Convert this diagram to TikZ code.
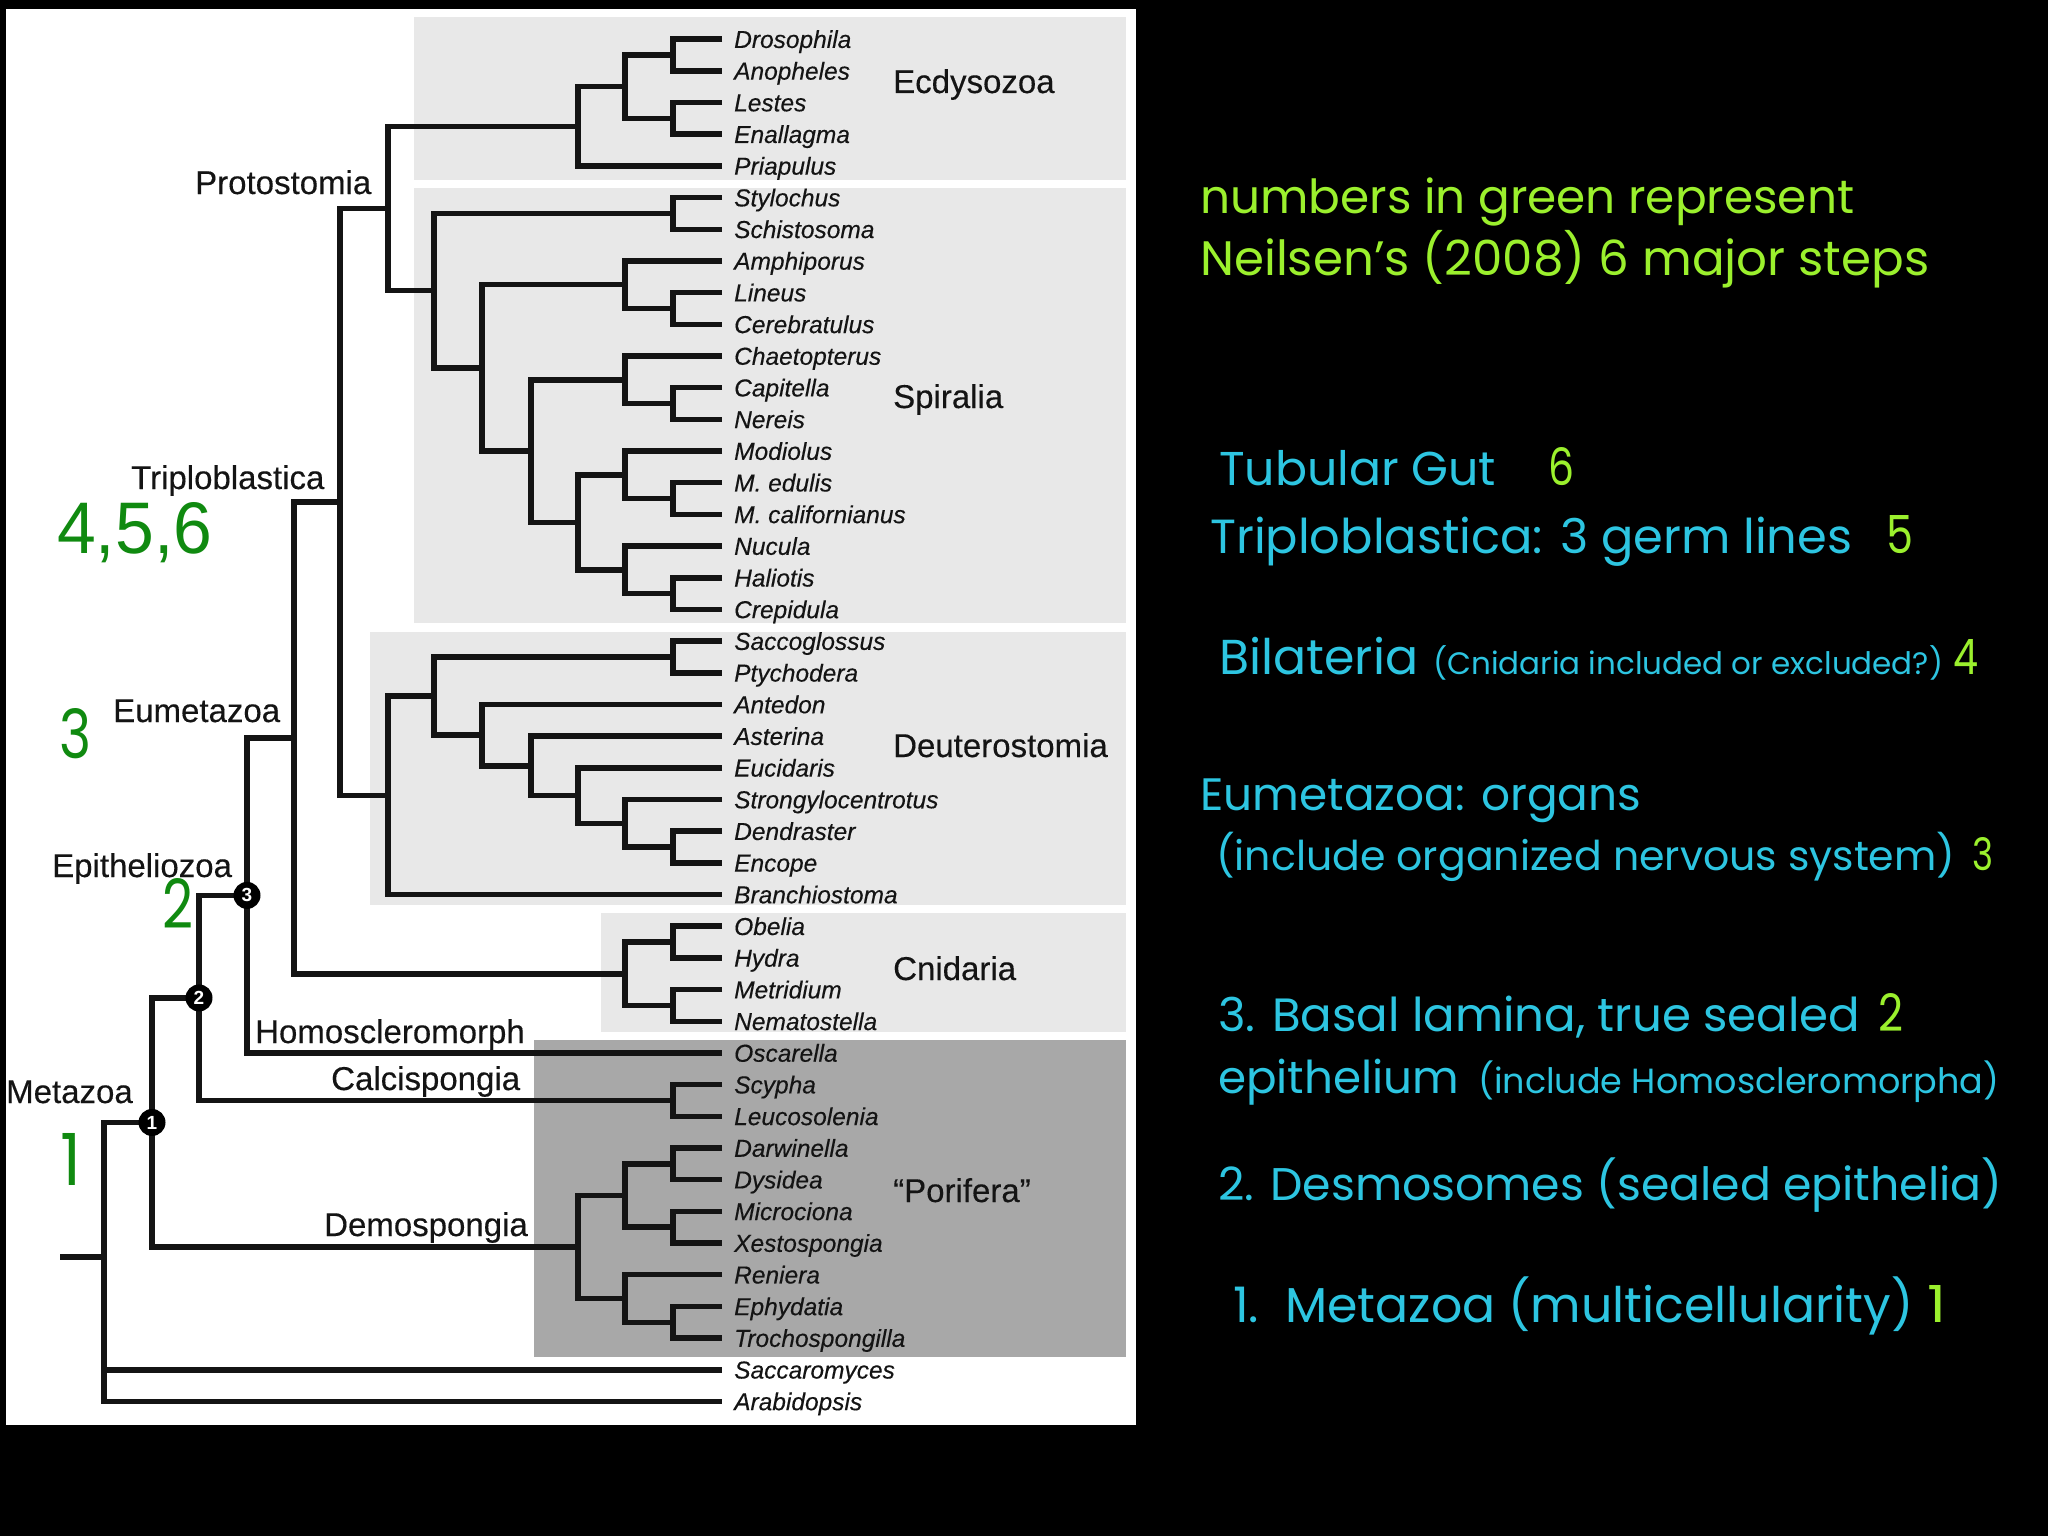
\documentclass[tikz,border=0pt]{standalone}
\usepackage{fontspec}
\usepackage{graphicx}
\setmainfont{Liberation Sans}
\newfontfamily\treefont[FakeBold=0.3]{Liberation Sans}
\newfontfamily\comic{Poppins}
\usetikzlibrary{calc}
\definecolor{lime}{RGB}{155,240,45}
\definecolor{cyn}{RGB}{45,197,225}
\definecolor{dgreen}{RGB}{16,138,16}
\definecolor{boxlight}{RGB}{232,232,232}
\definecolor{boxdark}{RGB}{168,168,168}
\definecolor{ink}{RGB}{20,20,20}

\newcommand\jn[4]{%
  \path ($(#3)!0.5!(#4)$) coordinate (m#1);
  \coordinate (#1) at (#2,0 |- m#1);
  \draw[br] (#3) -| (#1) |- (#4);}
\newcommand\rtx[6]{\node[rtext, text=#5] (#1) at (#2,#4) {\resizebox{#3pt}{!}{\comic #6}};}
\newcommand\dig[7]{\node[rtext, text=#6] (#1) at (#2,#5) {\resizebox{#3pt}{#4pt}{#7}};}

\begin{document}
\begin{tikzpicture}[x=1pt,y=-1pt,
  leaf/.style={anchor=west, inner xsep=12pt, inner ysep=0pt, text height=17.5pt, text depth=0pt,
               text=ink, font=\treefont\fontsize{24.5}{24.5}\selectfont\itshape},
  clade/.style={anchor=base west, inner sep=0pt, text=ink, font=\treefont\fontsize{33}{33}\selectfont},
  br/.style={line width=5.5pt, line join=miter, draw=ink},
  bub/.style={circle, fill=black, text=white, inner sep=0pt, minimum size=27pt,
              font=\fontsize{19}{19}\selectfont\bfseries},
  rtext/.style={anchor=base west, inner sep=0pt},
  lightbox/.style={fill=boxlight},
  darkbox/.style={fill=boxdark}]

% background
\fill[black] (0,0) rectangle (2048,1536);
\fill[white] (6,9) rectangle (1136,1425);

% clade boxes
\fill[lightbox] (414,17) rectangle (1126,180);
\fill[lightbox] (414,188) rectangle (1126,623);
\fill[lightbox] (370,632) rectangle (1126,905);
\fill[lightbox] (601,913) rectangle (1126,1032);
\fill[darkbox] (534,1040) rectangle (1126,1357);

% leaves
\foreach \nm/\lab [count=\i from 0] in {
  Drosophila/Drosophila, Anopheles/Anopheles, Lestes/Lestes, Enallagma/Enallagma, Priapulus/Priapulus,
  Stylochus/Stylochus, Schistosoma/Schistosoma, Amphiporus/Amphiporus, Lineus/Lineus, Cerebratulus/Cerebratulus,
  Chaetopterus/Chaetopterus, Capitella/Capitella, Nereis/Nereis, Modiolus/Modiolus, Medulis/M. edulis,
  Mcalifornianus/M. californianus, Nucula/Nucula, Haliotis/Haliotis, Crepidula/Crepidula,
  Saccoglossus/Saccoglossus, Ptychodera/Ptychodera, Antedon/Antedon, Asterina/Asterina, Eucidaris/Eucidaris,
  Strongylocentrotus/Strongylocentrotus, Dendraster/Dendraster, Encope/Encope, Branchiostoma/Branchiostoma,
  Obelia/Obelia, Hydra/Hydra, Metridium/Metridium, Nematostella/Nematostella,
  Oscarella/Oscarella, Scypha/Scypha, Leucosolenia/Leucosolenia, Darwinella/Darwinella, Dysidea/Dysidea,
  Microciona/Microciona, Xestospongia/Xestospongia, Reniera/Reniera, Ephydatia/Ephydatia,
  Trochospongilla/Trochospongilla, Saccaromyces/Saccaromyces, Arabidopsis/Arabidopsis}
  \node[leaf] (\nm) at (722,{39.2+31.68*\i}) {\lab};

% tree
\jn{E1}{673}{Drosophila}{Anopheles}
\jn{E2}{673}{Lestes}{Enallagma}
\jn{E3}{625}{E1}{E2}
\jn{Ecd}{578}{E3}{Priapulus}
\jn{P1}{673}{Stylochus}{Schistosoma}
\jn{N1}{673}{Lineus}{Cerebratulus}
\jn{Nem}{625}{Amphiporus}{N1}
\jn{A1}{673}{Capitella}{Nereis}
\jn{Ann}{625}{Chaetopterus}{A1}
\jn{M1}{673}{Medulis}{Mcalifornianus}
\jn{M2}{625}{Modiolus}{M1}
\jn{M3}{673}{Haliotis}{Crepidula}
\jn{M4}{625}{Nucula}{M3}
\jn{Mol}{578}{M2}{M4}
\jn{AM}{531}{Ann}{Mol}
\jn{NAM}{482}{Nem}{AM}
\jn{Spi}{434}{P1}{NAM}
\jn{Pro}{388}{Ecd}{Spi}
\jn{D1}{673}{Saccoglossus}{Ptychodera}
\jn{D2}{673}{Dendraster}{Encope}
\jn{D3}{625}{Strongylocentrotus}{D2}
\jn{D4}{578}{Eucidaris}{D3}
\jn{D5}{531}{Asterina}{D4}
\jn{D6}{482}{Antedon}{D5}
\jn{D7}{434}{D1}{D6}
\jn{Deu}{388}{D7}{Branchiostoma}
\jn{Tri}{340}{Pro}{Deu}
\jn{C1}{673}{Obelia}{Hydra}
\jn{C2}{673}{Metridium}{Nematostella}
\jn{Cni}{625}{C1}{C2}
\jn{Eum}{294}{Tri}{Cni}
\jn{Epi}{247}{Eum}{Oscarella}
\jn{Cal}{673}{Scypha}{Leucosolenia}
\jn{NdTwo}{199}{Epi}{Cal}
\jn{S1}{673}{Darwinella}{Dysidea}
\jn{S2}{673}{Microciona}{Xestospongia}
\jn{S3}{625}{S1}{S2}
\jn{S4}{673}{Ephydatia}{Trochospongilla}
\jn{S5}{625}{Reniera}{S4}
\jn{Dem}{578}{S3}{S5}
\jn{NdOne}{152}{NdTwo}{Dem}
\coordinate (root) at (104,1257);
\coordinate (rootstub) at (60,1257);
\draw[br] (NdOne) -| (root) |- (Arabidopsis);
\draw[br] (root) |- (Saccaromyces);
\draw[br] (rootstub) -- (root);

% numbered circles
\node[bub] (b3) at (Epi) {3};
\node[bub] (b2) at (NdTwo) {2};
\node[bub] (b1) at (NdOne) {1};

% clade labels
\node[clade] (lEcd) at (893,93) {Ecdysozoa};
\node[clade] (lSpi) at (893,408) {Spiralia};
\node[clade] (lDeu) at (893,757) {Deuterostomia};
\node[clade] (lCni) at (893,980) {Cnidaria};
\node[clade] (lPor) at (893,1202) {“Porifera”};
\node[clade] (lPro) at (195,194) {Protostomia};
\node[clade] (lTri) at (131,489) {Triploblastica};
\node[clade] (lEum) at (113,722) {Eumetazoa};
\node[clade] (lEpi) at (52,877) {Epitheliozoa};
\node[clade] (lHom) at (255,1043) {Homoscleromorph};
\node[clade] (lCal) at (331,1090) {Calcispongia};
\node[clade] (lMet) at (6,1103) {Metazoa};
\node[clade] (lDem) at (324,1236) {Demospongia};

% green step numbers on the tree
\dig{g456}{57}{155}{51}{553}{dgreen}{4,5,6}
\dig{g3}{59}{32}{50}{758}{dgreen}{\comic 3}
\dig{g2}{162}{31}{50}{928}{dgreen}{\comic 2}
\dig{g1}{60}{21}{52}{1185}{dgreen}{\comic 1}

% right-hand text
\rtx{rA}{1200}{654}{213}{lime}{numbers in green represent}
\rtx{rB}{1200}{729}{275}{lime}{Neilsen’s (2008) 6 major steps}
\rtx{rC}{1219}{277}{485}{cyn}{Tubular Gut}
\dig{rCn}{1548}{26}{38}{485}{lime}{\comic 6}
\rtx{rD}{1210}{642}{553}{cyn}{Triploblastica: 3 germ lines}
\dig{rDn}{1886}{27}{38}{553}{lime}{\comic 5}
\rtx{rE}{1219}{199}{674}{cyn}{Bilateria}
\rtx{rEb}{1433}{510}{674}{cyn}{(Cnidaria included or excluded?)}
\dig{rEn}{1953}{25}{35}{674}{lime}{\comic 4}
\rtx{rF}{1200}{441}{810}{cyn}{Eumetazoa: organs}
\rtx{rG}{1216}{739}{870}{cyn}{(include organized nervous system)}
\dig{rGn}{1972}{21}{33}{870}{lime}{\comic 3}
\rtx{rH}{1218}{642}{1031}{cyn}{3. Basal lamina, true sealed}
\dig{rHn}{1878}{25}{38}{1031}{lime}{\comic 2}
\rtx{rI}{1218}{241}{1093}{cyn}{epithelium}
\rtx{rIb}{1478}{521}{1093}{cyn}{(include Homoscleromorpha)}
\rtx{rJ}{1218}{784}{1200}{cyn}{2. Desmosomes (sealed epithelia)}
\rtx{rK}{1233}{680}{1322}{cyn}{1.\ \ Metazoa (multicellularity)}
\dig{rKn}{1927}{19}{37}{1322}{lime}{\comic 1}
\end{tikzpicture}
\end{document}
